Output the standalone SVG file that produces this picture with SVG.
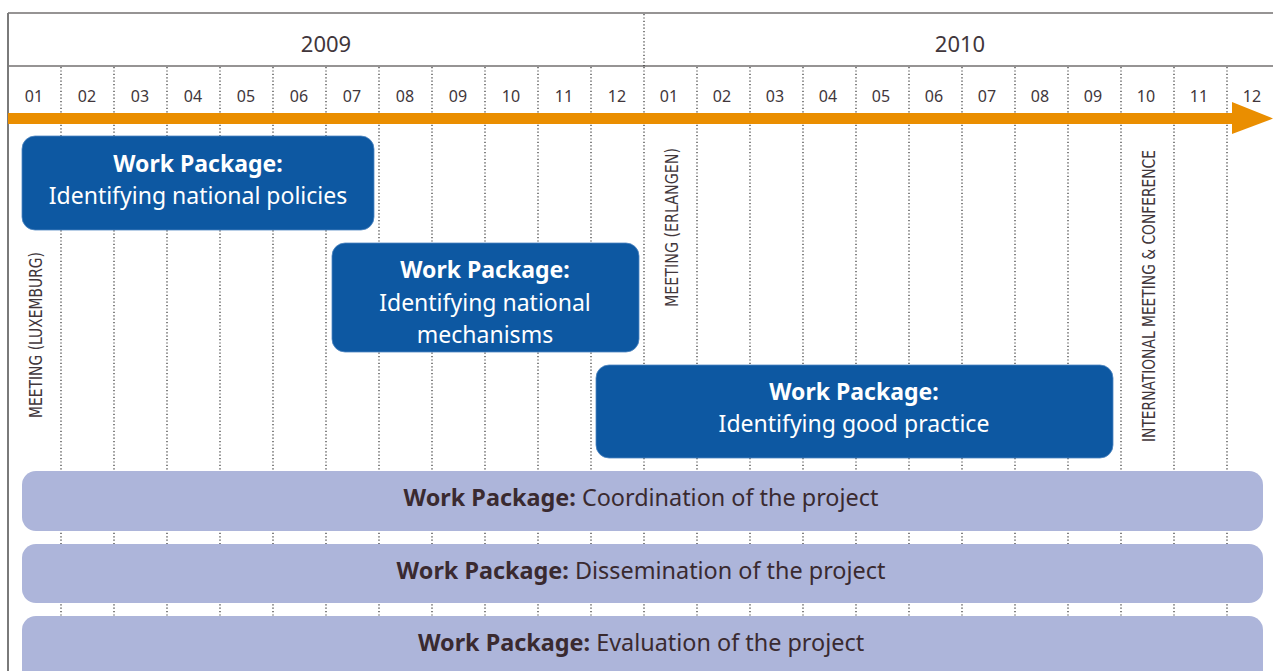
<svg xmlns="http://www.w3.org/2000/svg" width="1273" height="671" viewBox="0 0 1273 671">
<defs>
<style>
.frame{stroke:#2e2a2b;stroke-width:1.2;fill:none}
.grid{stroke:#1e1e1e;stroke-width:1.1;stroke-dasharray:1.2 2.2;fill:none}
.month{font-family:"Noto Sans","Open Sans",sans-serif;font-size:16px;fill:#41363b;text-anchor:middle}
.year{font-family:"Noto Sans","Open Sans",sans-serif;font-size:22px;fill:#41363b;text-anchor:middle}
.event{font-family:"DejaVu Sans Condensed","DejaVu Sans",sans-serif;font-stretch:condensed;font-size:18.5px;fill:#41363b}
.wp{fill:#0d58a2;stroke:#4f86c2;stroke-width:0.8}
.wpl{fill:#adb5da}
.wt{font-family:"Noto Sans","Open Sans",sans-serif;font-size:23px;fill:#ffffff;text-anchor:middle}
.lt{font-family:"Noto Sans","Open Sans",sans-serif;font-size:23.4px;fill:#3a2a30;text-anchor:middle}
.b{font-weight:bold}
</style>
</defs>
<rect width="1273" height="671" fill="#ffffff"/>
<g id="grid">
<line class="frame" x1="8" y1="13" x2="1273" y2="13"/>
<line class="frame" x1="8" y1="66" x2="1273" y2="66"/>
<line x1="8" y1="13" x2="8" y2="671" stroke="#7a7a7a" stroke-width="2"/>
<line class="grid" x1="644" y1="14" x2="644" y2="66"/>
<g class="grid">
<line x1="61" y1="67" x2="61" y2="671"/>
<line x1="114" y1="67" x2="114" y2="671"/>
<line x1="167" y1="67" x2="167" y2="671"/>
<line x1="220" y1="67" x2="220" y2="671"/>
<line x1="273" y1="67" x2="273" y2="671"/>
<line x1="326" y1="67" x2="326" y2="671"/>
<line x1="379" y1="67" x2="379" y2="671"/>
<line x1="432" y1="67" x2="432" y2="671"/>
<line x1="485" y1="67" x2="485" y2="671"/>
<line x1="538" y1="67" x2="538" y2="671"/>
<line x1="591" y1="67" x2="591" y2="671"/>
<line x1="644" y1="67" x2="644" y2="671"/>
<line x1="697" y1="67" x2="697" y2="671"/>
<line x1="750" y1="67" x2="750" y2="671"/>
<line x1="803" y1="67" x2="803" y2="671"/>
<line x1="856" y1="67" x2="856" y2="671"/>
<line x1="909" y1="67" x2="909" y2="671"/>
<line x1="962" y1="67" x2="962" y2="671"/>
<line x1="1015" y1="67" x2="1015" y2="671"/>
<line x1="1068" y1="67" x2="1068" y2="671"/>
<line x1="1121" y1="67" x2="1121" y2="671"/>
<line x1="1174" y1="67" x2="1174" y2="671"/>
<line x1="1227" y1="67" x2="1227" y2="671"/>
</g>
</g>
<g id="years">
<text class="year" x="326" y="52">2009</text>
<text class="year" x="960" y="52">2010</text>
</g>
<g id="months">
<text class="month" x="34" y="102">01</text>
<text class="month" x="87" y="102">02</text>
<text class="month" x="140" y="102">03</text>
<text class="month" x="193" y="102">04</text>
<text class="month" x="246" y="102">05</text>
<text class="month" x="299" y="102">06</text>
<text class="month" x="352" y="102">07</text>
<text class="month" x="405" y="102">08</text>
<text class="month" x="458" y="102">09</text>
<text class="month" x="511" y="102">10</text>
<text class="month" x="564" y="102">11</text>
<text class="month" x="617" y="102">12</text>
<text class="month" x="669" y="102">01</text>
<text class="month" x="722" y="102">02</text>
<text class="month" x="775" y="102">03</text>
<text class="month" x="828" y="102">04</text>
<text class="month" x="881" y="102">05</text>
<text class="month" x="934" y="102">06</text>
<text class="month" x="987" y="102">07</text>
<text class="month" x="1040" y="102">08</text>
<text class="month" x="1093" y="102">09</text>
<text class="month" x="1146" y="102">10</text>
<text class="month" x="1199" y="102">11</text>
<text class="month" x="1252" y="102">12</text>
</g>
<g id="connectors">
<rect x="8" y="113" width="1226" height="11" fill="#ea8e00"/>
<polygon points="1232,102 1273,118.5 1232,134" fill="#ea8e00"/>
</g>
<g id="event-luxemburg">
<text class="event" x="42" y="418" transform="rotate(-90 42 418)" textLength="166" lengthAdjust="spacingAndGlyphs">MEETING (LUXEMBURG)</text>
</g>
<g id="event-erlangen">
<text class="event" x="678" y="307" transform="rotate(-90 678 307)" textLength="159" lengthAdjust="spacingAndGlyphs">MEETING (ERLANGEN)</text>
</g>
<g id="event-conference">
<text class="event" x="1155" y="442" transform="rotate(-90 1155 442)" textLength="292" lengthAdjust="spacingAndGlyphs">INTERNATIONAL MEETING &amp; CONFERENCE</text>
</g>
<g id="wp-policies">
<rect class="wp" x="22" y="136" width="352" height="94" rx="13"/>
<text class="wt b" x="198" y="172">Work Package:</text>
<text class="wt" x="198" y="204">Identifying national policies</text>
</g>
<g id="wp-mechanisms">
<rect class="wp" x="332" y="243" width="307" height="109" rx="13"/>
<text class="wt b" x="485" y="278">Work Package:</text>
<text class="wt" x="485" y="311">Identifying national</text>
<text class="wt" x="485" y="343">mechanisms</text>
</g>
<g id="wp-practice">
<rect class="wp" x="596" y="365" width="517" height="93" rx="13"/>
<text class="wt b" x="854" y="400">Work Package:</text>
<text class="wt" x="854" y="432">Identifying good practice</text>
</g>
<g id="wp-coordination">
<rect class="wpl" x="22" y="471" width="1241" height="60" rx="14"/>
<text class="lt" x="641" y="506"><tspan class="b">Work Package:</tspan> Coordination of the project</text>
</g>
<g id="wp-dissemination">
<rect class="wpl" x="22" y="544" width="1241" height="59" rx="14"/>
<text class="lt" x="641" y="579"><tspan class="b">Work Package:</tspan> Dissemination of the project</text>
</g>
<g id="wp-evaluation">
<rect class="wpl" x="22" y="616" width="1241" height="70" rx="14"/>
<text class="lt" x="641" y="651"><tspan class="b">Work Package:</tspan> Evaluation of the project</text>
</g>
</svg>
